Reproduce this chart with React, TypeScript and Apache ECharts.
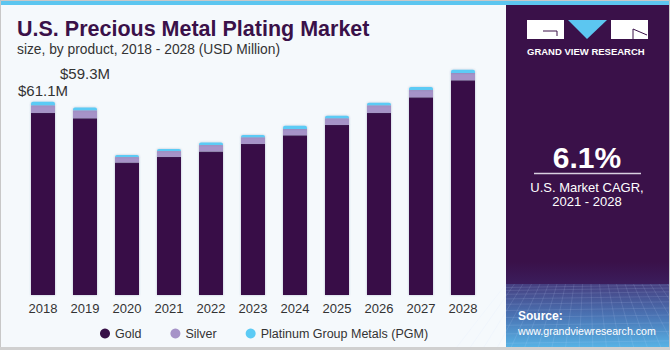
import React, { useEffect, useRef } from "react";
import * as echarts from "echarts";

const years = ["2018", "2019", "2020", "2021", "2022", "2023", "2024", "2025", "2026", "2027", "2028"];
const gold = [57.6, 55.9, 41.9, 43.7, 45.4, 47.8, 50.5, 53.8, 57.6, 62.5, 67.9];
const silver = [2.4, 2.5, 1.7, 1.8, 2.0, 2.1, 2.0, 2.1, 2.4, 2.3, 2.3];
const pgm = [1.1, 0.9, 0.7, 0.7, 0.8, 0.7, 1.0, 0.8, 0.8, 1.0, 1.0];
const totalLabels: Record<number, string> = { 0: "$61.1M", 1: "$59.3M" };
const labelOffsets: Record<number, number[]> = { 0: [0, 1], 1: [0, -21] };

const COLORS = { gold: "#371047", silver: "#a693c8", pgm: "#5ccbf5", panel: "#3a1149" };
const FONT = "'Liberation Sans', Arial, sans-serif";

export default function App() {
  const ref = useRef<HTMLDivElement>(null);
  useEffect(() => {
    if (!ref.current) return;
    const chart = echarts.init(ref.current, undefined, { renderer: "svg" });
    const shadow = { shadowBlur: 2, shadowColor: "rgba(70,90,130,0.35)" };
    const gridLines: any[] = [];
    // perspective-like mesh in the bottom panel
    for (let i = 0; i <= 20; i++) {
      const xt = 506 + i * 8.5;
      const xb = 588 + (xt - 588) * 1.6;
      gridLines.push({
        type: "line",
        shape: { x1: xt, y1: 284, x2: xb, y2: 347 },
        style: { stroke: "rgba(210,225,255,0.16)", lineWidth: 0.8 },
        silent: true,
      });
    }
    let y = 286;
    let step = 3;
    while (y < 347) {
      gridLines.push({
        type: "line",
        shape: { x1: 506, y1: y + 1.5, x2: 670, y2: y - 1 },
        style: { stroke: "rgba(210,225,255,0.16)", lineWidth: 0.8 },
        silent: true,
      });
      y += step;
      step += 0.8;
    }
    chart.setOption({
      animation: false,
      backgroundColor: "#f5f9fc",
      textStyle: { fontFamily: FONT },
      grid: { left: 22, right: 186, top: 42, bottom: 55 },
      xAxis: {
        type: "category",
        data: years,
        axisLine: { show: false },
        axisTick: { show: false },
        axisLabel: { color: "#333", fontSize: 13, margin: 7, fontFamily: FONT },
      },
      yAxis: { type: "value", min: 0, max: 80, show: false, splitLine: { show: false } },
      legend: {
        left: 95,
        top: 322,
        icon: "circle",
        itemWidth: 10,
        itemHeight: 10,
        itemGap: 29,
        textStyle: { color: "#333", fontSize: 12.5, fontFamily: FONT },
        data: ["Gold", "Silver", "Platinum Group Metals (PGM)"],
      },
      series: [
        {
          name: "Gold",
          type: "bar",
          stack: "t",
          barWidth: 24,
          data: gold,
          itemStyle: { color: COLORS.gold, ...shadow },
        },
        {
          name: "Silver",
          type: "bar",
          stack: "t",
          barWidth: 24,
          data: silver,
          itemStyle: { color: COLORS.silver, ...shadow },
        },
        {
          name: "Platinum Group Metals (PGM)",
          type: "bar",
          stack: "t",
          barWidth: 24,
          data: pgm.map((v, i) =>
            totalLabels[i]
              ? {
                  value: v,
                  label: {
                    show: true,
                    position: "top",
                    formatter: totalLabels[i],
                    offset: labelOffsets[i],
                    color: "#333",
                    fontSize: 15,
                    fontFamily: FONT,
                  },
                }
              : v
          ),
          itemStyle: { color: COLORS.pgm, borderRadius: [2, 2, 0, 0], ...shadow },
        },
      ],
      graphic: [
        { type: "rect", shape: { x: 0, y: 0, width: 670, height: 5 }, style: { fill: "#5cc6f0" }, silent: true },
        { type: "rect", shape: { x: 506, y: 5, width: 164, height: 343 }, style: { fill: COLORS.panel }, silent: true },
        {
          type: "rect",
          shape: { x: 506, y: 262, width: 164, height: 22 },
          style: {
            fill: new echarts.graphic.LinearGradient(0, 0, 0, 1, [
              { offset: 0, color: COLORS.panel },
              { offset: 1, color: "#3b1d5c" },
            ]),
          },
          silent: true,
        },
        {
          type: "rect",
          shape: { x: 506, y: 284, width: 164, height: 64 },
          style: {
            fill: new echarts.graphic.LinearGradient(0, 0, 0, 1, [
              { offset: 0, color: "#463f80" },
              { offset: 0.5, color: "#4a74b4" },
              { offset: 1, color: "#58b4e6" },
            ]),
          },
          silent: true,
        },
        ...gridLines,
        { type: "rect", shape: { x: 0.5, y: 0.5, width: 669, height: 347 }, style: { fill: "none", stroke: "#c8c8c8", lineWidth: 1 }, silent: true },
        { type: "rect", shape: { x: 0, y: 347, width: 670, height: 3 }, style: { fill: "#d0d0d0" }, silent: true },
        // logo
        { type: "rect", shape: { x: 527, y: 20, width: 37, height: 19 }, style: { fill: "#ffffff", stroke: "none" }, silent: true },
        { type: "polyline", shape: { points: [[543, 31], [557, 31], [557, 36]] }, style: { stroke: COLORS.panel, lineWidth: 1, fill: "none" }, silent: true },
        { type: "polygon", shape: { points: [[568, 20], [607, 20], [587, 39]] }, style: { fill: "#5cc6f0", stroke: "none" }, silent: true },
        { type: "rect", shape: { x: 611, y: 20, width: 37, height: 19 }, style: { fill: "#ffffff", stroke: "none" }, silent: true },
        { type: "line", shape: { x1: 633, y1: 29, x2: 647, y2: 35 }, style: { stroke: COLORS.panel, lineWidth: 1 }, silent: true },
        { type: "line", shape: { x1: 633, y1: 29, x2: 633, y2: 39 }, style: { stroke: COLORS.panel, lineWidth: 1 }, silent: true },
        {
          type: "text",
          x: 527,
          y: 51,
          style: { text: "GRAND VIEW RESEARCH", fill: "#ffffff", font: `bold 9.5px ${FONT}`, letterSpacing: 1.2, verticalAlign: "middle" } as any,
          silent: true,
        },
        {
          type: "text",
          x: 587,
          y: 157,
          style: { text: "6.1%", fill: "#ffffff", font: `bold 30px ${FONT}`, align: "center", verticalAlign: "middle" },
          silent: true,
        },
        { type: "line", shape: { x1: 534, y1: 173.5, x2: 641, y2: 173.5 }, style: { stroke: "#d8d0e0", lineWidth: 1.5 }, silent: true },
        {
          type: "text",
          x: 587,
          y: 187,
          style: { text: "U.S. Market CAGR,", fill: "#ffffff", font: `13px ${FONT}`, align: "center", verticalAlign: "middle" },
          silent: true,
        },
        {
          type: "text",
          x: 587,
          y: 201,
          style: { text: "2021 - 2028", fill: "#ffffff", font: `13px ${FONT}`, align: "center", verticalAlign: "middle" },
          silent: true,
        },
        {
          type: "text",
          x: 518,
          y: 316,
          style: { text: "Source:", fill: "#ffffff", font: `bold 12px ${FONT}`, verticalAlign: "middle" },
          silent: true,
        },
        {
          type: "text",
          x: 518,
          y: 331,
          style: { text: "www.grandviewresearch.com", fill: "#ffffff", font: `10.6px ${FONT}`, verticalAlign: "middle" },
          silent: true,
        },
        {
          type: "text",
          x: 17,
          y: 29,
          style: { text: "U.S. Precious Metal Plating Market", fill: "#3a1149", font: `900 21.5px ${FONT}`, verticalAlign: "middle" },
          silent: true,
        },
        {
          type: "text",
          x: 17,
          y: 49,
          style: { text: "size, by product, 2018 - 2028 (USD Million)", fill: "#333333", font: `13.8px ${FONT}`, verticalAlign: "middle" },
          silent: true,
        },
      ],
    });
    return () => chart.dispose();
  }, []);
  return (
    <div
      ref={ref}
      style={{ position: "absolute", left: 0, top: 0, width: 670, height: 350 }}
    />
  );
}
